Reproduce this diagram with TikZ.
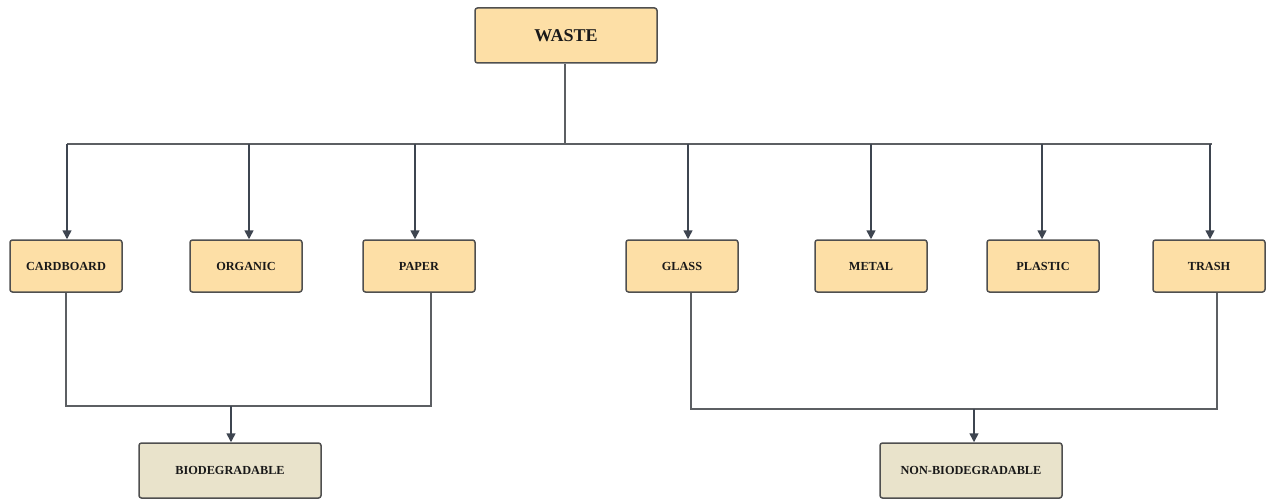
\documentclass[tikz,border=0pt]{standalone}
\usepackage{fontspec}
\setmainfont{Liberation Serif}
\usetikzlibrary{arrows.meta}
\definecolor{boxfill}{HTML}{FDDFA6}
\definecolor{catfill}{HTML}{E9E3CB}
\definecolor{boxline}{HTML}{4F4F4F}
\definecolor{conn}{HTML}{5C5F63}
\definecolor{arr}{HTML}{3E4550}
\begin{document}
\begin{tikzpicture}[x=1pt,y=-1pt,
  basebox/.style={draw=boxline,line width=1.5pt,rounded corners=2.5pt,inner sep=0pt,
    font=\fontsize{12.3}{14}\selectfont\bfseries,text=black!90},
  leafbox/.style={basebox,fill=boxfill,minimum width=112pt,minimum height=52pt},
  topbox/.style={basebox,fill=boxfill,minimum width=182pt,minimum height=55pt,font=\fontsize{18}{20}\selectfont\bfseries},
  catbox/.style={basebox,fill=catfill,minimum width=182pt,minimum height=55pt},
  line/.style={draw=conn,line width=1.4pt},
  arrline/.style={draw=arr,line width=1.6pt,-{Triangle[width=9pt,length=9pt]}}
]
\useasboundingbox (0,0) rectangle (1269,500);
\node[topbox] (waste) at (566,35.5) {WASTE};
\node[leafbox] (cardboard) at (66,266) {CARDBOARD};
\node[leafbox] (organic) at (246,266) {ORGANIC};
\node[leafbox] (paper) at (419,266) {PAPER};
\node[leafbox] (glass) at (682,266) {GLASS};
\node[leafbox] (metal) at (871,266) {METAL};
\node[leafbox] (plastic) at (1043,266) {PLASTIC};
\node[leafbox] (trash) at (1209,266) {TRASH};
\node[catbox] (bio) at (230,470.5) {BIODEGRADABLE};
\node[catbox] (nonbio) at (971,470.5) {NON-BIODEGRADABLE};
% top distribution
\coordinate (hub) at (565,144);
\coordinate (busL) at (67,144);
\coordinate (busR) at (1212,144);
\draw[line] (waste.south -| hub) -- (hub);
\draw[line] (busL) -- (busR);
\foreach \n/\x in {cardboard/67,organic/249,paper/415,glass/688,metal/871,plastic/1042,trash/1210}{
  \draw[arrline] (\x,144) -- (\n.north -| {(\x,0)});
}
% biodegradable collector
\coordinate (b1) at (66,406);
\coordinate (b2) at (431,406);
\draw[line] (cardboard.south -| b1) -- (b1) -- (b2) -- (paper.south -| b2);
\draw[arrline] (231,406) -- (bio.north -| {(231,0)});
% non-biodegradable collector
\coordinate (n1) at (691,409);
\coordinate (n2) at (1217,409);
\draw[line] (glass.south -| n1) -- (n1) -- (n2) -- (trash.south -| n2);
\draw[arrline] (974,409) -- (nonbio.north -| {(974,0)});
\end{tikzpicture}
\end{document}
